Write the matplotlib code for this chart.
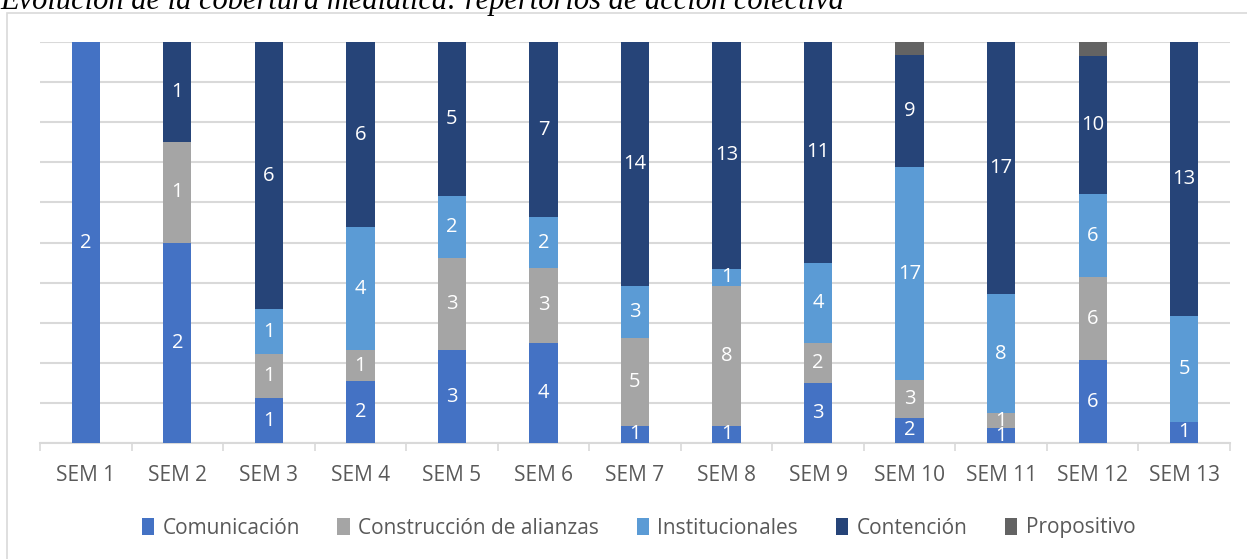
import numpy as np
import matplotlib
matplotlib.use("Agg")
import matplotlib.pyplot as plt
from matplotlib.patches import Rectangle

plt.rcParams['font.family'] = ['Open Sans', 'DejaVu Sans']

semanas = [f"SEM {i}" for i in range(1, 14)]
comunicacion = [2, 2, 1, 2, 3, 4, 1, 1, 3, 2, 1, 6, 1]
construccion = [0, 1, 1, 1, 3, 3, 5, 8, 2, 3, 1, 6, 0]
institucionales = [0, 0, 1, 4, 2, 2, 3, 1, 4, 17, 8, 6, 5]
contencion = [0, 1, 6, 6, 5, 7, 14, 13, 11, 9, 17, 10, 13]
propositivo = [0, 0, 0, 0, 0, 0, 0, 0, 0, 1, 0, 1, 0]

series = [
    ("Comunicación", comunicacion, "#4472C4", True),
    ("Construcción de alianzas", construccion, "#A5A5A5", True),
    ("Institucionales", institucionales, "#5B9BD5", True),
    ("Contención", contencion, "#264478", True),
    ("Propositivo", propositivo, "#636363", False),
]

fig = plt.figure(figsize=(12.47, 5.59), dpi=100)

# outer chart frame
fig.patches.append(Rectangle((7 / 1247, -0.05), 1.0, 1 - 13 / 559 + 0.05,
                             transform=fig.transFigure, fill=False,
                             edgecolor="#D9D9D9", linewidth=1.2))

# title sits partly above the image, as in the source screenshot
fig.text(0.0, 1 - 9 / 559, "Evolución de la cobertura mediática: repertorios de acción colectiva",
         family="Liberation Serif", style="italic", fontsize=22, va="baseline", ha="left")

ax = fig.add_axes([40 / 1247, 1 - 443 / 559, 1190 / 1247, 401 / 559])

x = np.arange(len(semanas))
totals = np.sum([s[1] for s in series], axis=0)
bottom = np.zeros(len(semanas))
for name, vals, color, show in series:
    frac = np.array(vals) / totals
    ax.bar(x, frac, width=0.31, bottom=bottom, color=color, label=name, zorder=3)
    if show:
        for xi, v, f, b in zip(x, vals, frac, bottom):
            if v > 0:
                ax.text(xi, b + f / 2, str(v), ha="center", va="center",
                        color="white", fontsize=14.5, zorder=4)
    bottom += frac

ax.set_xlim(-0.5, len(semanas) - 0.5)
ax.set_ylim(0, 1)
ax.set_yticks(np.arange(0, 1.01, 0.1))
ax.yaxis.grid(True, color="#D9D9D9", linewidth=1.5, zorder=0)
ax.tick_params(axis="y", length=0, labelleft=False)

ax.set_xticks(x)
ax.set_xticklabels(semanas, fontsize=15, color="#595959")
ax.set_xticks(np.arange(-0.5, len(semanas)), minor=True)
ax.tick_params(axis="x", which="major", length=0, pad=16)
ax.tick_params(axis="x", which="minor", length=6, color="#D9D9D9", width=1.2)

for side in ["top", "right", "left"]:
    ax.spines[side].set_visible(False)
ax.spines["bottom"].set_color("#D9D9D9")
ax.spines["bottom"].set_linewidth(1.5)

fig.legend(loc="center", bbox_to_anchor=(0.512, 1 - 528 / 559), ncol=5, frameon=False,
           fontsize=15, labelcolor="#595959", handlelength=0.6, handleheight=0.9,
           handletextpad=0.4, columnspacing=1.8)

fig.savefig("out.png", dpi=100)
